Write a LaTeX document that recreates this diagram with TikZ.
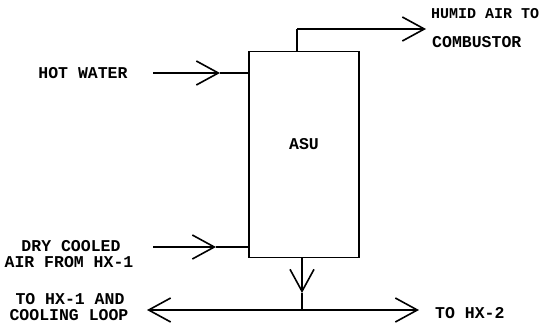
\documentclass[tikz,border=0pt]{standalone}
\usepackage{fontspec}
\setmonofont{Liberation Mono}
\usetikzlibrary{arrows.meta}
\begin{document}
\begin{tikzpicture}[x=1pt,y=-1pt,
  ln/.style={line width=1.8pt},
  flow/.style={ln,-{Straight Barb[length=22pt,width=24pt,line width=1.6pt]}},
  lbl/.style={font=\ttfamily\bfseries\fontsize{16.5}{17}\selectfont,inner sep=0pt,align=center},
  lblsm/.style={lbl,font=\ttfamily\bfseries\fontsize{15}{16}\selectfont}]
\useasboundingbox (0,0) rectangle (543,324);
% ASU box
\node[draw,ln,minimum width=110pt,minimum height=206pt,inner sep=0pt] (asu) at (304,154.5) {};
\node[lbl] (asutxt) at (304,144) {ASU};
% labels
\node[lblsm,anchor=west] (humid) at (431,14) {HUMID AIR TO};
\node[lbl,anchor=west] (comb) at (432,42) {COMBUSTOR};
\node[lbl] (hotw) at (83,73) {HOT WATER};
\node[lbl] (dry1) at (71,246) {DRY COOLED};
\node[lbl] (dry2) at (69,262) {AIR FROM HX-1};
\node[lbl] (to1) at (70,299) {TO HX-1 AND};
\node[lbl] (to2) at (69,315) {COOLING LOOP};
\node[lbl,anchor=west] (tohx2) at (435,313) {TO HX-2};
% coordinates
\coordinate (hwS) at (153,73);
\coordinate (hwT) at (220,73);
\coordinate (dcS) at (153,247);
\coordinate (dcT) at (216,247);
\coordinate (topB) at (297,51);
\coordinate (topC) at (297,29);
\coordinate (topT) at (426,29);
\coordinate (botB) at (302,258);
\coordinate (botT) at (302,293);
\coordinate (botJ) at (302,310);
\coordinate (leftT) at (147,310);
\coordinate (rightT) at (419,310);
% hot water
\draw[flow] (hwS) -- (hwT);
\draw[ln] (hwT) -- (asu.west |- hwT);
% dry cooled air
\draw[flow] (dcS) -- (dcT);
\draw[ln] (dcT) -- (asu.west |- dcT);
% humid air
\draw[ln] (asu.north -| topB) -- (topC);
\draw[flow] (topC) -- (topT);
% bottom outlet
\draw[flow] (asu.south -| botB) -- (botT);
\draw[ln] (botT) -- (botJ);
\draw[flow] (botJ) -- (leftT);
\draw[flow] (botJ) -- (rightT);
\end{tikzpicture}
\end{document}
